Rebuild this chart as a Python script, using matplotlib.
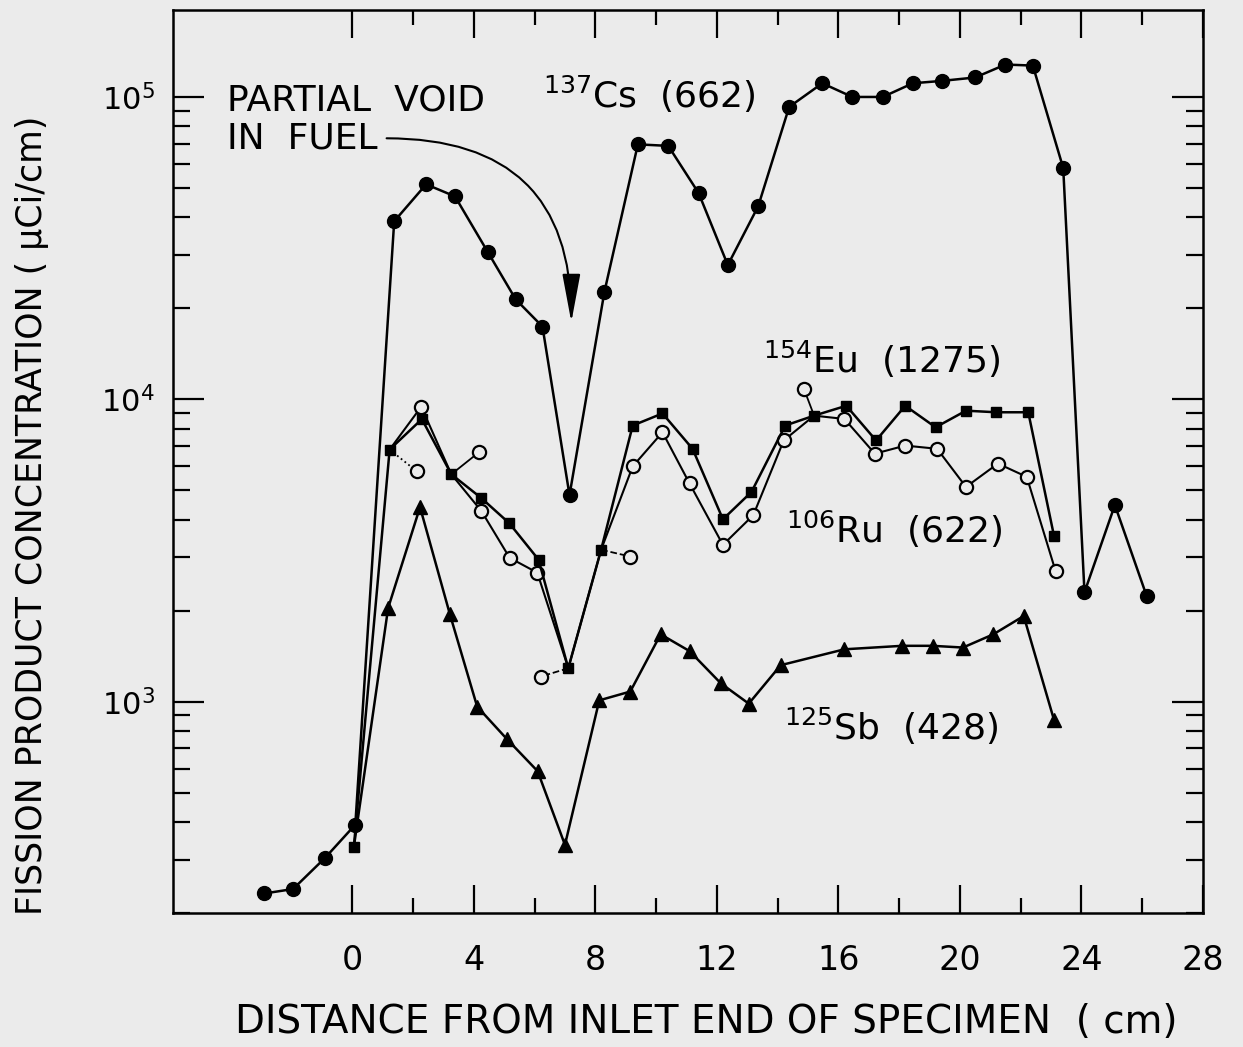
import matplotlib
matplotlib.use('Agg')
import matplotlib.pyplot as plt
from matplotlib.ticker import FixedLocator, LogLocator, NullFormatter

BG = '#ebebeb'

# 137Cs (662) - filled circles
cs_x = [-2.9, -1.95, -0.9, 0.1, 1.38, 2.43, 3.38, 4.46, 5.38, 6.26, 7.15, 8.3, 9.4, 10.4,
        11.4, 12.36, 13.36, 14.38, 15.47, 16.46, 17.46, 18.45, 19.4, 20.5, 21.5, 22.4,
        23.4, 24.1, 25.1, 26.15]
cs_y = [232, 240, 304, 392, 38800, 51400, 46900, 30700, 21400, 17400, 4820, 22700, 69700,
        68900, 48100, 27800, 43500, 92700, 111000, 100000, 100000, 111000, 113000, 116000,
        128000, 127000, 58200, 2300, 4470, 2230]

# filled squares
sq_x = [0.05, 1.23, 2.29, 3.26, 4.24, 5.17, 6.13, 7.11, 8.19, 9.23, 10.21, 11.2, 12.2,
        13.14, 14.25, 15.2, 16.26, 17.24, 18.2, 19.2, 20.2, 21.2, 22.25, 23.1]
sq_y = [330, 6820, 8600, 5650, 4720, 3890, 2950, 1290, 3180, 8190, 8980, 6860, 4010,
        4940, 8190, 8830, 9520, 7310, 9520, 8080, 9170, 9060, 9060, 3520]

# open circles
oc_x = [1.23, 2.27, 3.26, 4.25, 5.18, 6.09, 7.11, 8.19, 9.23, 10.21, 11.1, 12.2, 13.2,
        14.2, 15.2, 16.2, 17.2, 18.2, 19.25, 20.2, 21.25, 22.2, 23.15]
oc_y = [6820, 9450, 5650, 4270, 2990, 2670, 1290, 3180, 6000, 7780, 5270, 3300, 4140,
        7310, 8830, 8610, 6610, 7030, 6860, 5130, 6130, 5540, 2700]
oc_shown = [1, 3, 4, 5, 8, 9, 10, 11, 12, 13, 15, 16, 17, 18, 19, 20, 21, 22]

# extra open-circle readings joined to a neighbouring point
extra_from = [(1.23, 6820), (3.26, 5650), (7.11, 1290), (8.19, 3180), (15.2, 8830)]
extra_to = [(2.12, 5780), (4.16, 6670), (6.2, 1210), (9.15, 3020), (14.87, 10800)]
extra_ls = [':', '-', '--', '--', '-']

# 125Sb (428) - triangles
sb_x = [0.05, 1.18, 2.23, 3.21, 4.11, 5.1, 6.1, 7.0, 8.13, 9.15, 10.15, 11.1, 12.13,
        13.05, 14.1, 16.2, 18.1, 19.1, 20.1, 21.1, 22.1, 23.1]
sb_y = [330, 2040, 4400, 1950, 963, 750, 589, 336, 1010, 1080, 1670, 1470, 1150, 985,
        1320, 1490, 1530, 1530, 1510, 1670, 1920, 868]

x_major = [0, 4, 8, 12, 16, 20, 24, 28]
x_minor = [2, 6, 10, 14, 18, 22, 26]

plt.rcParams['font.family'] = ['DejaVu Sans']

fig = plt.figure(figsize=(12.43, 10.47), dpi=100, facecolor=BG)
ax = fig.add_axes([0.1392, 0.128, 0.8286, 0.8625])
ax.set_facecolor(BG)

ax.set_yscale('log')
ax.set_xlim(-5.9, 28)
ax.set_ylim(200, 1.94e5)

LW = 1.8
ax.plot(cs_x, cs_y, color='k', lw=LW, marker='o', ms=10, mfc='k', mec='k', zorder=3)
ax.plot(sb_x, sb_y, color='k', lw=LW, marker='^', ms=10, mfc='k', mec='k',
        markevery=list(range(1, len(sb_x))), zorder=3)
ax.plot(oc_x, oc_y, color='k', lw=1.5, marker='o', ms=9.5, mfc=BG, mec='k', mew=1.6,
        markevery=oc_shown, zorder=4)
for (x0, y0), (x1, y1), ls in zip(extra_from, extra_to, extra_ls):
    ax.plot([x0, x1], [y0, y1], color='k', lw=1.3, ls=ls, zorder=2)
    ax.plot([x1], [y1], marker='o', ms=9.5, mfc=BG, mec='k', mew=1.6, ls='none', zorder=4)
ax.plot(sq_x, sq_y, color='k', lw=LW, marker='s', ms=6.5, mfc='k', mec='k', zorder=5)

# axes styling
for s in ax.spines.values():
    s.set_linewidth(1.8)
ax.xaxis.set_major_locator(FixedLocator(x_major))
ax.xaxis.set_minor_locator(FixedLocator(x_minor))
ax.yaxis.set_major_locator(LogLocator(base=10))
ax.yaxis.set_minor_locator(LogLocator(base=10, subs=range(2, 10)))
ax.yaxis.set_minor_formatter(NullFormatter())
ax.tick_params(which='both', direction='in', top=True, right=True, width=1.6)
ax.tick_params(axis='x', which='major', length=20, pad=22, labelsize=24)
ax.tick_params(axis='x', which='minor', length=11)
ax.tick_params(axis='y', which='major', length=22, pad=13, labelsize=22)
ax.tick_params(axis='y', which='minor', length=12)

# annotations
tf = ax.transAxes
ax.text(0.052, 0.889, 'PARTIAL  VOID', transform=tf, fontsize=26, va='baseline')
ax.text(0.052, 0.847, 'IN  FUEL', transform=tf, fontsize=26, va='baseline')
ax.text(0.359, 0.891, r'$^{137}$Cs  (662)', transform=tf, fontsize=26, va='baseline')
ax.text(0.573, 0.598, r'$^{154}$Eu  (1275)', transform=tf, fontsize=26, va='baseline')
ax.text(0.595, 0.410, r'$^{106}$Ru  (622)', transform=tf, fontsize=26, va='baseline')
ax.text(0.593, 0.192, r'$^{125}$Sb  (428)', transform=tf, fontsize=26, va='baseline')

ax.annotate('', xy=(7.21, 1.8e4), xytext=(1.13, 7.3e4),
            arrowprops=dict(arrowstyle='-|>,head_length=1.5,head_width=0.28',
                            connectionstyle='angle3,angleA=0,angleB=90',
                            color='k', lw=1.5, shrinkA=0, shrinkB=0, mutation_scale=20))

fig.text(0.026, 1 - 515 / 1047, 'FISSION PRODUCT CONCENTRATION ( \u03bcCi/cm)',
         rotation=90, ha='center', va='center', fontsize=25)
fig.text(706 / 1243, 1 - 1022 / 1047, 'DISTANCE FROM INLET END OF SPECIMEN  ( cm)',
         ha='center', va='center', fontsize=28)

fig.savefig('out.png', dpi=100, facecolor=BG)
